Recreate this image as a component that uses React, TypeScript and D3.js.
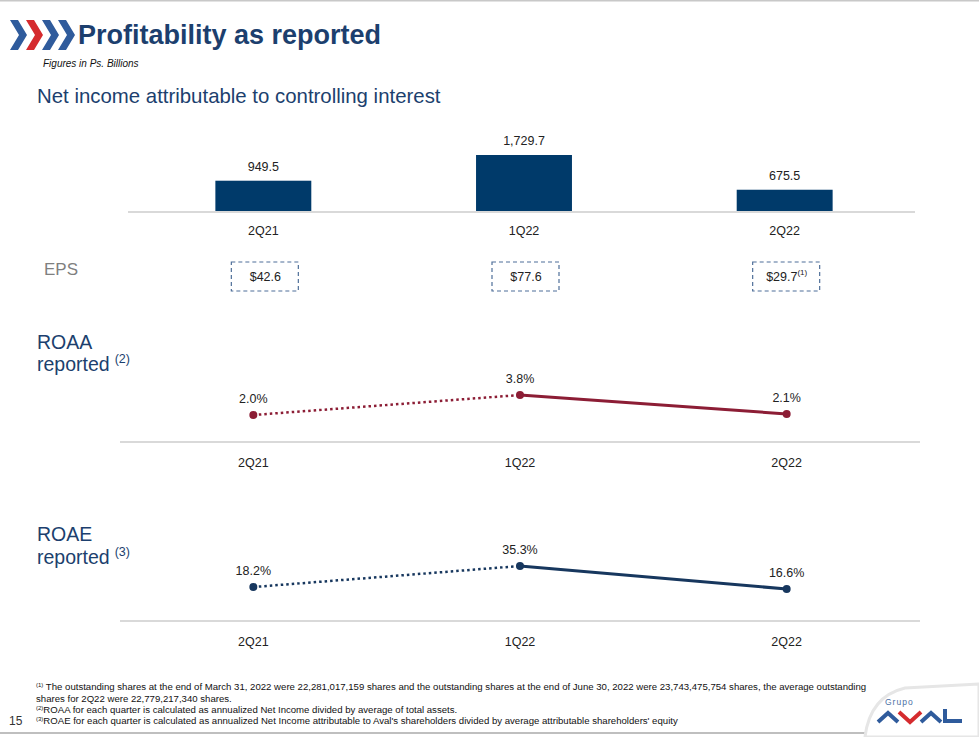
import * as d3 from "d3";

const quarters = ["2Q21", "1Q22", "2Q22"];
const netIncome = [949.5, 1729.7, 675.5];
const eps = [42.6, 77.6, 29.7];
const roaa = [2.0, 3.8, 2.1];
const roae = [18.2, 35.3, 16.6];

const W = 979;
const H = 737;
const FONT = "'Liberation Sans', Arial, sans-serif";
const NAVY = "#1c3f6e";
const BAR = "#003a6a";
const RED = "#8c1d35";
const ROAE_C = "#17375e";
const TXT = "#222";

const fmt = (v: number) => d3.format(",.1f")(v);

function LineBlock({
  values,
  color,
  yTop,
  yBottom,
  axisY,
}: {
  values: number[];
  color: string;
  yTop: number;
  yBottom: number;
  axisY: number;
}) {
  const x = d3.scalePoint<string>().domain(quarters).range([120, 920]).padding(0.5);
  const ext = d3.extent(values) as [number, number];
  const y = d3.scaleLinear().domain(ext).range([yBottom, yTop]);
  const pts = values.map((v, i) => [x(quarters[i])!, y(v)] as [number, number]);
  const line = d3.line();
  return (
    <g>
      <line x1={120} x2={920} y1={axisY} y2={axisY} stroke="#d9d9d9" strokeWidth={2} />
      <path d={line(pts.slice(0, 2))!} fill="none" stroke={color} strokeWidth={2.5} strokeDasharray="2.5 3" />
      <path d={line(pts.slice(1))!} fill="none" stroke={color} strokeWidth={3} />
      {pts.map((p, i) => (
        <g key={i}>
          <circle cx={p[0]} cy={p[1]} r={4} fill={color} />
          <text x={p[0]} y={p[1] - 12} textAnchor="middle" fontSize={12.5} fill={TXT}>
            {values[i].toFixed(1)}%
          </text>
        </g>
      ))}
      {quarters.map((q) => (
        <text key={q} x={x(q)} y={axisY + 25} textAnchor="middle" fontSize={12.5} fill={TXT}>
          {q}
        </text>
      ))}
    </g>
  );
}

function Chevron({ x, color }: { x: number; color: string }) {
  const pts = [
    [x, 20],
    [x + 8, 20],
    [x + 17, 35],
    [x + 8, 50],
    [x, 50],
    [x + 9, 35],
  ];
  return <polygon points={pts.map((p) => p.join(",")).join(" ")} fill={color} />;
}

export default function App() {
  const xb = d3
    .scaleBand<string>()
    .domain(quarters)
    .range([133, 915])
    .paddingInner(0.632)
    .paddingOuter(0.316);
  const yb = d3.scaleLinear().domain([0, d3.max(netIncome)!]).range([212, 155]);
  const baseY = 212;

  return (
    <svg
      width={W}
      height={H}
      style={{ position: "absolute", left: 0, top: 0, background: "#fff" }}
      fontFamily={FONT}
    >
      <line x1={0} x2={W} y1={0.5} y2={0.5} stroke="#c8c8c8" strokeWidth={2} />

      {/* header */}
      <Chevron x={10} color="#2f5b9c" />
      <Chevron x={26} color="#d52b2e" />
      <Chevron x={42} color="#2f5b9c" />
      <Chevron x={58} color="#2f5b9c" />
      <text x={78} y={44} fontSize={27} fontWeight="bold" fill={NAVY}>
        Profitability as reported
      </text>
      <text x={43} y={67} fontSize={10} fontStyle="italic" fill="#111">
        Figures in Ps. Billions
      </text>
      <text x={37} y={103} fontSize={20.4} fill={NAVY}>
        Net income attributable to controlling interest
      </text>

      {/* bars */}
      <line x1={128} x2={915} y1={baseY} y2={baseY} stroke="#d9d9d9" strokeWidth={2} />
      {netIncome.map((v, i) => {
        const q = quarters[i];
        const bx = xb(q)!;
        const cx = bx + xb.bandwidth() / 2;
        return (
          <g key={q}>
            <rect x={bx} y={yb(v)} width={xb.bandwidth()} height={baseY - yb(v) - 1} fill={BAR} />
            <text x={cx} y={yb(v) - 10} textAnchor="middle" fontSize={12.5} fill={TXT}>
              {fmt(v)}
            </text>
            <text x={cx} y={235} textAnchor="middle" fontSize={12.5} fill={TXT}>
              {q}
            </text>
          </g>
        );
      })}

      {/* EPS */}
      <text x={44} y={275} fontSize={17} fill="#7f7f7f">
        EPS
      </text>
      {eps.map((v, i) => {
        const cx = xb(quarters[i])! + xb.bandwidth() / 2;
        return (
          <g key={i}>
            <rect
              x={cx - 32}
              y={262}
              width={67}
              height={29}
              fill="none"
              stroke="#4f6f99"
              strokeWidth={1.2}
              strokeDasharray="4 3"
            />
            <text x={cx + 2} y={281} textAnchor="middle" fontSize={12.5} fill={TXT}>
              ${v.toFixed(1)}
              {i === 2 && (
                <tspan fontSize={8} dy={-6}>
                  (1)
                </tspan>
              )}
            </text>
          </g>
        );
      })}

      {/* ROAA */}
      <text x={37} y={349} fontSize={19.5} fill={NAVY}>
        ROAA
      </text>
      <text x={37} y={371} fontSize={19.5} fill={NAVY}>
        reported
        <tspan fontSize={12.5} dx={5} dy={-8}>
          (2)
        </tspan>
      </text>
      <LineBlock values={roaa} color={RED} yTop={395} yBottom={415} axisY={442} />

      {/* ROAE */}
      <text x={37} y={541} fontSize={19.5} fill={NAVY}>
        ROAE
      </text>
      <text x={37} y={564} fontSize={19.5} fill={NAVY}>
        reported
        <tspan fontSize={12.5} dx={5} dy={-8}>
          (3)
        </tspan>
      </text>
      <LineBlock values={roae} color={ROAE_C} yTop={566} yBottom={589} axisY={621} />

      {/* footnotes */}
      <g fontSize={9.6} fill="#111">
        <text x={36} y={690}>
          <tspan fontSize={6} dy={-3}>(1)</tspan>
          <tspan dy={3}>
            {" "}The outstanding shares at the end of March 31, 2022 were 22,281,017,159 shares and the outstanding shares at the end of June 30, 2022 were 23,743,475,754 shares, the average outstanding
          </tspan>
        </text>
        <text x={36} y={702}>
          shares for 2Q22 were 22,779,217,340 shares.
        </text>
        <text x={36} y={713}>
          <tspan fontSize={6} dy={-3}>(2)</tspan>
          <tspan dy={3}>ROAA for each quarter is calculated as annualized Net Income divided by average of total assets.</tspan>
        </text>
        <text x={36} y={724}>
          <tspan fontSize={6} dy={-3}>(3)</tspan>
          <tspan dy={3}>
            ROAE for each quarter is calculated as annualized Net Income attributable to Aval's shareholders divided by average attributable shareholders' equity
          </tspan>
        </text>
      </g>
      <text x={9} y={725} fontSize={12} fill="#333">
        15
      </text>
      <line x1={0} x2={865} y1={733} y2={733} stroke="#bfbfbf" strokeWidth={2} />

      {/* logo */}
      <path
        d="M865,737 C868,712 880,694 905,688 L979,684 L979,737 Z"
        fill="#fff"
        stroke="#e6e6e6"
        strokeWidth={3}
      />
      <text x={885} y={705} fontSize={8.5} fill="#4a6fa5" letterSpacing={1}>
        Grupo
      </text>
      <polyline points="878,722 888,713 898,722" fill="none" stroke="#2f5b9c" strokeWidth={4} />
      <polyline points="899,712 910,722 921,712" fill="none" stroke="#d52b2e" strokeWidth={4} />
      <polyline points="921,722 931,713 941,722" fill="none" stroke="#2f5b9c" strokeWidth={4} />
      <polyline points="945,709 945,721 962,721" fill="none" stroke="#2f5b9c" strokeWidth={4} />
    </svg>
  );
}
